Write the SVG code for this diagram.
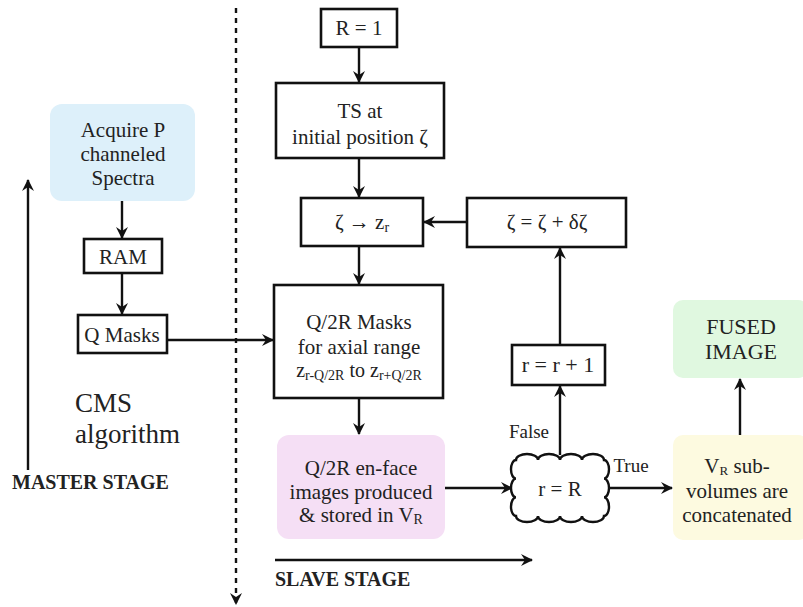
<svg xmlns="http://www.w3.org/2000/svg" width="803" height="607" viewBox="0 0 803 607" font-family="'Liberation Serif', 'DejaVu Serif', 'Times New Roman', serif">
<defs>
<style>
text{font-family:'Liberation Serif','DejaVu Serif','Times New Roman',serif;fill:#222;}
.t{font-size:21px;text-anchor:middle;}
.box{fill:#fff;stroke:#111;stroke-width:2.6;}
.soft{stroke:none;}
.ln{stroke:#111;stroke-width:2.4;fill:none;}
.bold{font-weight:bold;font-size:20px;}
.sub{font-size:14px;}
</style>
<marker id="ah" viewBox="0 0 12 12" refX="11" refY="6" markerWidth="12" markerHeight="12" markerUnits="userSpaceOnUse" orient="auto">
<path d="M0,0 L12,6 L0,12 L4,6 Z" fill="#111"/>
</marker>
</defs>
<rect width="803" height="607" fill="#fff"/>

<g id="connectors">
<line class="ln" x1="236" y1="8" x2="236" y2="604" stroke-dasharray="5,5" marker-end="url(#ah)"/>
<line class="ln" x1="28" y1="470" x2="28" y2="180" marker-end="url(#ah)"/>
<line class="ln" x1="275" y1="560" x2="532" y2="560" marker-end="url(#ah)"/>
<line class="ln" x1="122" y1="201" x2="122" y2="238" marker-end="url(#ah)"/>
<line class="ln" x1="122" y1="273" x2="122" y2="314" marker-end="url(#ah)"/>
<line class="ln" x1="167" y1="340" x2="273" y2="340" marker-end="url(#ah)"/>
<line class="ln" x1="359" y1="47" x2="359" y2="82" marker-end="url(#ah)"/>
<line class="ln" x1="359" y1="158" x2="359" y2="197" marker-end="url(#ah)"/>
<line class="ln" x1="359" y1="246" x2="359" y2="284" marker-end="url(#ah)"/>
<line class="ln" x1="359" y1="398" x2="359" y2="434" marker-end="url(#ah)"/>
<line class="ln" x1="445" y1="488" x2="512" y2="488" marker-end="url(#ah)"/>
<line class="ln" x1="608" y1="488" x2="672" y2="488" marker-end="url(#ah)"/>
<line class="ln" x1="560" y1="455" x2="560" y2="386" marker-end="url(#ah)"/>
<line class="ln" x1="560" y1="345" x2="560" y2="248" marker-end="url(#ah)"/>
<line class="ln" x1="467" y1="222" x2="424" y2="222" marker-end="url(#ah)"/>
<line class="ln" x1="740" y1="435" x2="740" y2="379" marker-end="url(#ah)"/>
<text x="529" y="438" class="t" style="font-size:19px">False</text>
<text x="631" y="472" class="t" style="font-size:19px">True</text>
</g>

<g id="acquire">
<rect x="50" y="104" width="145" height="97" rx="12" fill="#ddf0fa" class="soft"/>
<text x="123" y="137" class="t">Acquire P</text>
<text x="123" y="161" class="t">channeled</text>
<text x="123" y="185" class="t">Spectra</text>
</g>

<g id="ram">
<rect x="84" y="239" width="78" height="34" class="box"/>
<text x="123" y="264" class="t">RAM</text>
</g>

<g id="qmasks">
<rect x="78" y="315" width="89" height="38" class="box"/>
<text x="122" y="342" class="t">Q Masks</text>
</g>

<g id="cms">
<text x="75" y="412" style="font-size:27px">CMS</text>
<text x="75" y="443" style="font-size:27px">algorithm</text>
</g>

<g id="master-label">
<text x="12" y="489" class="bold">MASTER STAGE</text>
</g>

<g id="slave-label">
<text x="275" y="586" class="bold">SLAVE STAGE</text>
</g>

<g id="r1">
<rect x="321" y="9" width="76" height="38" class="box"/>
<text x="359" y="35" class="t">R = 1</text>
</g>

<g id="ts">
<rect x="276" y="83" width="168" height="75" class="box"/>
<text x="360" y="118" class="t">TS at</text>
<text x="360" y="144" class="t">initial position ζ</text>
</g>

<g id="zeta-z">
<rect x="301" y="198" width="122" height="48" class="box"/>
<text x="362" y="229" class="t">ζ  → z<tspan class="sub" dy="3">r</tspan></text>
</g>

<g id="zeta-update">
<rect x="467" y="198" width="159" height="49" class="box"/>
<text x="547" y="229" class="t">ζ = ζ + δζ</text>
</g>

<g id="q2r-masks">
<rect x="274" y="285" width="169" height="113" class="box"/>
<text x="359" y="329" class="t">Q/2R Masks</text>
<text x="359" y="354" class="t">for axial range</text>
<text x="359" y="377" class="t" style="font-size:20px">z<tspan class="sub" dy="3">r-Q/2R</tspan><tspan dy="-3"> to z</tspan><tspan class="sub" dy="3">r+Q/2R</tspan></text>
</g>

<g id="enface">
<rect x="277" y="435" width="168" height="104" rx="12" fill="#f5dff5" class="soft"/>
<text x="361" y="475" class="t">Q/2R en-face</text>
<text x="361" y="499" class="t">images produced</text>
<text x="361" y="522" class="t">&amp; stored in V<tspan class="sub" dy="2">R</tspan></text>
</g>

<g id="decision">
<path d="M516,460 a11,6 0 0 1 22,0 a11,6 0 0 1 22,0 a11,6 0 0 1 22,0 a11,6 0 0 1 22,0 a5,9.33 0 0 1 0,18.67 a5,9.33 0 0 1 0,18.67 a5,9.33 0 0 1 0,18.67 a11,6 0 0 1 -22,0 a11,6 0 0 1 -22,0 a11,6 0 0 1 -22,0 a11,6 0 0 1 -22,0 a5,9.33 0 0 1 0,-18.67 a5,9.33 0 0 1 0,-18.67 a5,9.33 0 0 1 0,-18.67 Z" fill="#fff" stroke="#111" stroke-width="2.4"/>
<text x="560" y="496" class="t">r = R</text>
</g>

<g id="r-inc">
<rect x="512" y="345" width="93" height="40" class="box"/>
<text x="558" y="372" class="t" style="font-size:22px">r = r + 1</text>
</g>

<g id="fused">
<rect x="673" y="300" width="135" height="78" rx="10" fill="#e0f8e0" class="soft"/>
<text x="741" y="334" class="t" style="font-size:22px">FUSED</text>
<text x="741" y="359" class="t" style="font-size:22px">IMAGE</text>
</g>

<g id="concat">
<rect x="673" y="435" width="135" height="105" rx="10" fill="#fdfae0" class="soft"/>
<text x="737" y="473" class="t" style="font-size:21px">V<tspan style="font-size:13px" dy="2">R</tspan><tspan dy="-2"> sub-</tspan></text>
<text x="737" y="498" class="t" style="font-size:21px">volumes are</text>
<text x="737" y="522" class="t" style="font-size:21px">concatenated</text>
</g>
</svg>
